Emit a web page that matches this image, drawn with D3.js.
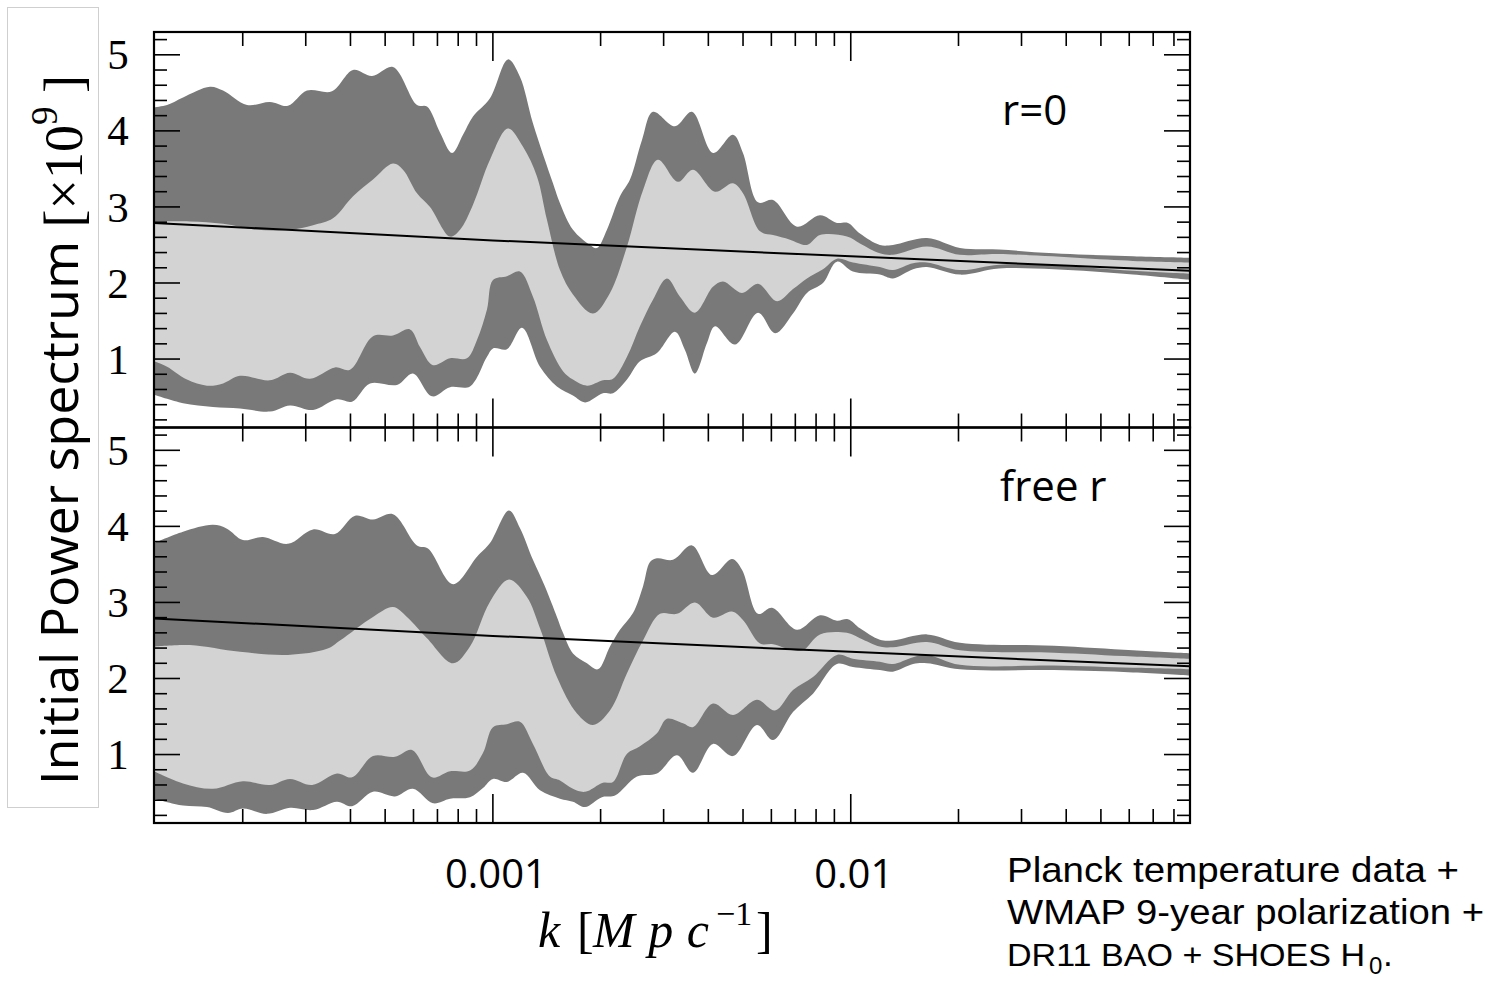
<!DOCTYPE html>
<html><head><meta charset="utf-8">
<script src="https://cdn.jsdelivr.net/npm/d3@7"></script>
<style>body{margin:0;background:#fff} svg{display:block}</style>
</head><body>
<svg id="c" width="1505" height="992"></svg>
<script>
// ---------- data (k in Mpc^-1, power spectrum x 1e9) ----------
const kDomain = [1.13e-4, 0.0887];
const yDomain = [0.1, 5.3];
const xMajorTicks = [0.001, 0.01];
const xTickLabels = ["0.001", "0.01"];
const yTickValues = [1, 2, 3, 4, 5];
const panelLabels = ["r=0", "free r"];
const noteLines = ["Planck temperature data +", "WMAP 9-year polarization +", "DR11 BAO + SHOES H"];

const fiducial = [[1.13e-4,2.79],[0.001,2.56],[0.01,2.35],[0.0887,2.16]];

// top panel (r=0)
const topOuterUpper = [[1.13e-4,4.31],[1.229e-4,4.34],[1.362e-4,4.44],[1.62e-4,4.58],[1.762e-4,4.53],[2.056e-4,4.34],[2.383e-4,4.38],[2.676e-4,4.33],[3.024e-4,4.53],[3.551e-4,4.52],[4.067e-4,4.80],[4.595e-4,4.72],[5.258e-4,4.84],[6.137e-4,4.34],[6.545e-4,4.32],[7.115e-4,3.98],[7.69e-4,3.71],[8.25e-4,3.95],[8.799e-4,4.19],[9.815e-4,4.43],[1.102e-3,4.94],[1.19e-3,4.71],[1.294e-3,4.10],[1.472e-3,3.31],[1.54e-3,3.05],[1.674e-3,2.70],[1.8675e-3,2.50],[1.954e-3,2.46],[2.083e-3,2.70],[2.265e-3,3.14],[2.416e-3,3.36],[2.61e-3,3.88],[2.801e-3,4.25],[3.227e-3,4.06],[3.6e-3,4.25],[4.121e-3,3.71],[4.688e-3,3.95],[4.998e-3,3.71],[5.506e-3,3.06],[6.065e-3,3.09],[7.076e-3,2.74],[8.203e-3,2.89],[9.15e-3,2.79],[9.822e-3,2.79],[1.061e-2,2.65],[1.206e-2,2.50],[1.312e-2,2.50],[1.633e-2,2.59],[2.019e-2,2.46],[2.595e-2,2.44],[3.697e-2,2.39],[6.145e-2,2.35],[8.87e-2,2.33]];
const topInnerUpper = [[1.13e-4,2.81],[1.424e-4,2.81],[1.762e-4,2.78],[2.193e-4,2.70],[2.711e-4,2.70],[3.144e-4,2.76],[3.574e-4,2.85],[4.067e-4,3.14],[4.624e-4,3.36],[5.258e-4,3.57],[5.608e-4,3.49],[6.137e-4,3.18],[6.673e-4,3.00],[7.591e-4,2.61],[8.093e-4,2.70],[8.799e-4,3.03],[9.815e-4,3.62],[1.102e-3,4.03],[1.214e-3,3.79],[1.328e-3,3.40],[1.416e-3,2.83],[1.54e-3,2.17],[1.674e-3,1.85],[1.904e-3,1.60],[2.124e-3,1.87],[2.37e-3,2.48],[2.627e-3,3.22],[2.893e-3,3.62],[3.29e-3,3.33],[3.623e-3,3.49],[4.175e-3,3.20],[4.688e-3,3.31],[4.998e-3,3.18],[5.577e-3,2.68],[6.065e-3,2.63],[6.764e-3,2.57],[7.545e-3,2.50],[8.203e-3,2.63],[9.759e-3,2.61],[1.061e-2,2.52],[1.206e-2,2.39],[1.312e-2,2.37],[1.633e-2,2.48],[2.019e-2,2.37],[2.595e-2,2.38],[6.145e-2,2.29],[8.87e-2,2.27]];
const topInnerLower = [[1.13e-4,0.97],[1.229e-4,0.90],[1.397e-4,0.73],[1.589e-4,0.65],[1.762e-4,0.68],[1.965e-4,0.78],[2.383e-4,0.72],[2.711e-4,0.82],[3.083e-4,0.74],[3.62e-4,0.89],[3.989e-4,0.86],[4.624e-4,1.30],[5.258e-4,1.31],[5.866e-4,1.39],[6.256e-4,1.16],[6.803e-4,0.92],[7.591e-4,1.01],[8.463e-4,1.01],[9.028e-4,1.25],[9.627e-4,1.65],[1.0006e-3,2.04],[1.095e-3,2.09],[1.19e-3,2.15],[1.294e-3,1.82],[1.416e-3,1.25],[1.57e-3,0.84],[1.674e-3,0.73],[1.832e-3,0.65],[2.03e-3,0.72],[2.166e-3,0.74],[2.37e-3,1.03],[2.576e-3,1.43],[2.801e-3,1.78],[3.064e-3,2.06],[3.333e-3,1.82],[3.67e-3,1.61],[4.121e-3,1.95],[4.395e-3,2.02],[4.966e-3,1.87],[5.506e-3,1.99],[6.223e-3,1.76],[6.896e-3,1.92],[7.545e-3,2.06],[8.363e-3,2.18],[9.15e-3,2.32],[1.014e-2,2.27],[1.206e-2,2.21],[1.312e-2,2.17],[1.493e-2,2.26],[1.633e-2,2.27],[2.019e-2,2.17],[2.595e-2,2.24],[3.697e-2,2.23],[6.145e-2,2.16],[8.87e-2,2.12]];
const topOuterLower = [[1.13e-4,0.53],[1.362e-4,0.42],[1.651e-4,0.37],[1.965e-4,0.35],[2.383e-4,0.31],[2.711e-4,0.39],[3.144e-4,0.33],[3.667e-4,0.47],[4.04e-4,0.44],[4.536e-4,0.68],[5.395e-4,0.66],[5.981e-4,0.81],[6.756e-4,0.51],[7.591e-4,0.63],[8.63e-4,0.64],[9.627e-4,1.03],[1.0006e-3,1.14],[1.095e-3,1.13],[1.206e-3,1.41],[1.354e-3,0.90],[1.51e-3,0.64],[1.674e-3,0.52],[1.809e-3,0.43],[2.03e-3,0.55],[2.166e-3,0.55],[2.37e-3,0.73],[2.576e-3,0.97],[2.874e-3,1.08],[3.227e-3,1.36],[3.441e-3,1.12],[3.67e-3,0.81],[3.965e-3,1.21],[4.175e-3,1.43],[4.748e-3,1.19],[5.506e-3,1.61],[6.143e-3,1.34],[6.896e-3,1.60],[7.545e-3,1.87],[8.363e-3,2.00],[9.15e-3,2.28],[1.014e-2,2.15],[1.206e-2,2.11],[1.312e-2,2.06],[1.493e-2,2.18],[1.633e-2,2.21],[2.019e-2,2.11],[2.595e-2,2.19],[3.697e-2,2.18],[6.145e-2,2.11],[8.87e-2,2.04]];

// bottom panel (free r)
const botOuterUpper = [[1.13e-4,3.78],[1.362e-4,3.93],[1.651e-4,4.02],[1.807e-4,3.97],[2.003e-4,3.82],[2.278e-4,3.86],[2.676e-4,3.77],[3.144e-4,3.96],[3.62e-4,3.90],[4.12e-4,4.14],[4.624e-4,4.09],[5.258e-4,4.16],[6.137e-4,3.75],[6.587e-4,3.71],[7.74e-4,3.24],[9.028e-4,3.60],[9.815e-4,3.78],[1.109e-3,4.21],[1.19e-3,3.98],[1.294e-3,3.56],[1.398e-3,3.21],[1.51e-3,2.81],[1.57e-3,2.60],[1.674e-3,2.33],[1.832e-3,2.20],[1.966e-3,2.12],[2.124e-3,2.42],[2.265e-3,2.64],[2.463e-3,2.86],[2.627e-3,3.21],[2.748e-3,3.53],[2.874e-3,3.58],[3.186e-3,3.56],[3.6e-3,3.75],[4.095e-3,3.36],[4.658e-3,3.57],[4.966e-3,3.43],[5.506e-3,2.85],[6.026e-3,2.93],[7.076e-3,2.64],[8.203e-3,2.83],[9.15e-3,2.76],[9.822e-3,2.78],[1.061e-2,2.66],[1.206e-2,2.51],[1.312e-2,2.50],[1.633e-2,2.58],[2.019e-2,2.47],[3.697e-2,2.43],[6.145e-2,2.37],[8.87e-2,2.33]];
const botInnerUpper = [[1.13e-4,2.42],[1.424e-4,2.44],[1.965e-4,2.35],[2.676e-4,2.31],[3.439e-4,2.39],[3.739e-4,2.50],[4.624e-4,2.81],[5.258e-4,2.94],[5.754e-4,2.81],[6.545e-4,2.53],[7.74e-4,2.20],[8.63e-4,2.42],[9.815e-4,3.01],[1.109e-3,3.30],[1.245e-3,3.07],[1.354e-3,2.66],[1.51e-3,2.02],[1.718e-3,1.54],[1.904e-3,1.39],[2.124e-3,1.58],[2.37e-3,2.07],[2.627e-3,2.50],[2.93e-3,2.85],[3.269e-3,2.85],[3.67e-3,3.00],[4.121e-3,2.80],[4.658e-3,2.88],[4.998e-3,2.77],[5.577e-3,2.46],[6.065e-3,2.45],[6.896e-3,2.37],[7.354e-3,2.37],[8.203e-3,2.58],[9.759e-3,2.60],[1.061e-2,2.53],[1.206e-2,2.42],[1.312e-2,2.41],[1.633e-2,2.48],[2.019e-2,2.37],[3.697e-2,2.34],[6.145e-2,2.29],[8.87e-2,2.26]];
const botInnerLower = [[1.13e-4,0.78],[1.362e-4,0.62],[1.651e-4,0.55],[2.003e-4,0.65],[2.383e-4,0.60],[2.711e-4,0.68],[3.124e-4,0.60],[3.667e-4,0.75],[4.04e-4,0.70],[4.624e-4,0.98],[5.326e-4,0.97],[5.943e-4,1.06],[6.756e-4,0.70],[7.591e-4,0.78],[8.63e-4,0.79],[9.38e-4,1.02],[1.0006e-3,1.36],[1.095e-3,1.40],[1.19e-3,1.43],[1.294e-3,1.14],[1.444e-3,0.71],[1.54e-3,0.66],[1.674e-3,0.55],[1.809e-3,0.51],[2.03e-3,0.63],[2.166e-3,0.64],[2.37e-3,1.01],[2.576e-3,1.11],[2.874e-3,1.28],[3.064e-3,1.47],[3.398e-3,1.41],[3.623e-3,1.36],[4.121e-3,1.67],[4.688e-3,1.52],[5.47e-3,1.72],[6.143e-3,1.58],[6.896e-3,1.85],[7.843e-3,2.02],[9.15e-3,2.31],[1.014e-2,2.26],[1.206e-2,2.22],[1.312e-2,2.19],[1.493e-2,2.28],[1.633e-2,2.31],[2.019e-2,2.18],[3.697e-2,2.17],[6.145e-2,2.14],[8.87e-2,2.12]];
const botOuterLower = [[1.13e-4,0.42],[1.362e-4,0.33],[1.589e-4,0.31],[1.819e-4,0.23],[2.003e-4,0.29],[2.337e-4,0.22],[2.711e-4,0.30],[3.144e-4,0.27],[3.667e-4,0.38],[4.04e-4,0.32],[4.624e-4,0.51],[5.326e-4,0.45],[5.981e-4,0.55],[6.803e-4,0.36],[7.591e-4,0.42],[8.63e-4,0.44],[9.38e-4,0.56],[1.0006e-3,0.68],[1.095e-3,0.64],[1.214e-3,0.76],[1.354e-3,0.53],[1.54e-3,0.42],[1.674e-3,0.38],[1.809e-3,0.31],[2.017e-3,0.44],[2.194e-3,0.46],[2.527e-3,0.71],[2.874e-3,0.75],[3.269e-3,0.99],[3.623e-3,0.76],[4.121e-3,1.14],[4.688e-3,0.98],[5.47e-3,1.39],[6.065e-3,1.19],[6.896e-3,1.56],[7.843e-3,1.80],[9.15e-3,2.19],[1.014e-2,2.15],[1.206e-2,2.11],[1.312e-2,2.09],[1.493e-2,2.19],[1.633e-2,2.20],[2.019e-2,2.12],[3.697e-2,2.11],[6.145e-2,2.08],[8.87e-2,2.04]];

// ---------- drawing ----------
const svg = d3.select("#c");
const L = 154, R = 1190;
const panels = [
  {top: 32, bottom: 427.5, label: panelLabels[0], lx: 1002, ly: 125,
   bands: [topOuterUpper, topOuterLower, topInnerUpper, topInnerLower]},
  {top: 427.5, bottom: 823, label: panelLabels[1], lx: 1000, ly: 501,
   bands: [botOuterUpper, botOuterLower, botInnerUpper, botInnerLower]}
];
const DARK = "#797979", LIGHT = "#d3d3d3";
const x = d3.scaleLog().domain(kDomain).range([L, R]);

function bandPath(y, upper, lower) {
  const line = d3.line().x(d => x(d[0])).y(d => y(d[1])).curve(d3.curveCatmullRom.alpha(0.5));
  const up = line(upper);
  const lo = line(lower.slice().reverse());
  return up + "L" + lo.slice(1) + "Z";
}

const allTicks = x.ticks();
const minorX = allTicks.filter(t => !xMajorTicks.some(m => Math.abs(m - t) / m < 1e-6));

panels.forEach((p, i) => {
  const y = d3.scaleLinear().domain(yDomain).range([p.bottom, p.top]);
  const g = svg.append("g");
  const cid = "clip" + i;
  svg.append("clipPath").attr("id", cid).append("rect")
    .attr("x", L).attr("y", p.top).attr("width", R - L).attr("height", p.bottom - p.top);
  const plot = g.append("g").attr("clip-path", `url(#${cid})`);
  plot.append("path").attr("d", bandPath(y, p.bands[0], p.bands[1])).attr("fill", DARK);
  plot.append("path").attr("d", bandPath(y, p.bands[2], p.bands[3])).attr("fill", LIGHT);
  plot.append("path").datum(fiducial)
    .attr("d", d3.line().x(d => x(d[0])).y(d => y(d[1])))
    .attr("fill", "none").attr("stroke", "#000").attr("stroke-width", 2);

  // ticks
  const tk = g.append("g").attr("stroke", "#000").attr("stroke-width", 1.6);
  const xt = (v, len) => {
    tk.append("line").attr("x1", x(v)).attr("x2", x(v)).attr("y1", p.top).attr("y2", p.top + len);
    tk.append("line").attr("x1", x(v)).attr("x2", x(v)).attr("y1", p.bottom).attr("y2", p.bottom - len);
  };
  minorX.forEach(v => xt(v, 14));
  xMajorTicks.forEach(v => xt(v, 29));
  const yMinor = d3.ticks(yDomain[0], yDomain[1], 26);
  yMinor.forEach(v => {
    const len = Math.abs(v - Math.round(v)) < 1e-6 ? 26 : 13;
    tk.append("line").attr("x1", L).attr("x2", L + len).attr("y1", y(v)).attr("y2", y(v));
    tk.append("line").attr("x1", R).attr("x2", R - len).attr("y1", y(v)).attr("y2", y(v));
  });
  // y labels
  g.selectAll(".yl").data(yTickValues).enter().append("text")
    .attr("x", 118).attr("y", d => y(d)).attr("dy", "0.34em")
    .attr("text-anchor", "middle").attr("font-family", "Liberation Serif").attr("font-size", 43)
    .text(d => d);
  // frame
  g.append("rect").attr("x", L).attr("y", p.top).attr("width", R - L).attr("height", p.bottom - p.top)
    .attr("fill", "none").attr("stroke", "#000").attr("stroke-width", 2.2);
  // panel label
  g.append("text").attr("x", p.lx).attr("y", p.ly).attr("font-family", "Open Sans")
    .attr("font-size", 42).text(p.label);
});

// x tick labels
svg.selectAll(".xl").data(xMajorTicks).enter().append("text")
  .attr("x", d => x(d) + 3).attr("y", 888).attr("text-anchor", "middle")
  .attr("font-family", "Open Sans").attr("font-size", 40).text((d, i) => xTickLabels[i]);

// x axis title: k [Mpc^-1]
const xtt = svg.append("text").attr("y", 947).attr("font-family", "Liberation Serif").attr("font-size", 50);
xtt.append("tspan").attr("x", 538).attr("font-style", "italic").text("k");
xtt.append("tspan").attr("x", 577).text("[");
xtt.append("tspan").attr("x", 593).attr("font-style", "italic")
  .attr("textLength", 116).attr("lengthAdjust", "spacing").text("Mpc");
xtt.append("tspan").attr("x", 716).attr("font-size", 34).attr("dy", -22).text("−1");
xtt.append("tspan").attr("x", 756).attr("dy", 22).text("]");

// y axis title box
svg.append("rect").attr("x", 7.5).attr("y", 7.5).attr("width", 91).attr("height", 800)
  .attr("fill", "none").attr("stroke", "#cfcfcf").attr("stroke-width", 1);
const yt = svg.append("text").attr("transform", "translate(78,785) rotate(-90)");
yt.append("tspan").attr("font-family", "Open Sans").attr("font-size", 52).text("Initial Power spectrum");
yt.append("tspan").attr("font-family", "Liberation Serif").attr("font-size", 54).attr("dy", 4).text(" [×10");
yt.append("tspan").attr("font-family", "Liberation Serif").attr("font-size", 37).attr("dy", -25).text("9");
yt.append("tspan").attr("font-family", "Liberation Serif").attr("font-size", 54).attr("dy", 25).text(" ]");

// note text
const nt = svg.append("g").attr("font-family", "Liberation Sans").attr("font-size", 35);
nt.append("text").attr("x", 1007).attr("y", 882).attr("textLength", 452).attr("lengthAdjust", "spacingAndGlyphs").text(noteLines[0]);
nt.append("text").attr("x", 1007).attr("y", 924).attr("textLength", 477).attr("lengthAdjust", "spacingAndGlyphs").text(noteLines[1]);
nt.append("text").attr("x", 1007).attr("y", 966).attr("font-size", 32)
  .attr("textLength", 358).attr("lengthAdjust", "spacingAndGlyphs").text(noteLines[2]);
nt.append("text").attr("x", 1369).attr("y", 974).attr("font-size", 24).text("0");
nt.append("text").attr("x", 1383).attr("y", 966).text(".");
</script>
</body></html>
